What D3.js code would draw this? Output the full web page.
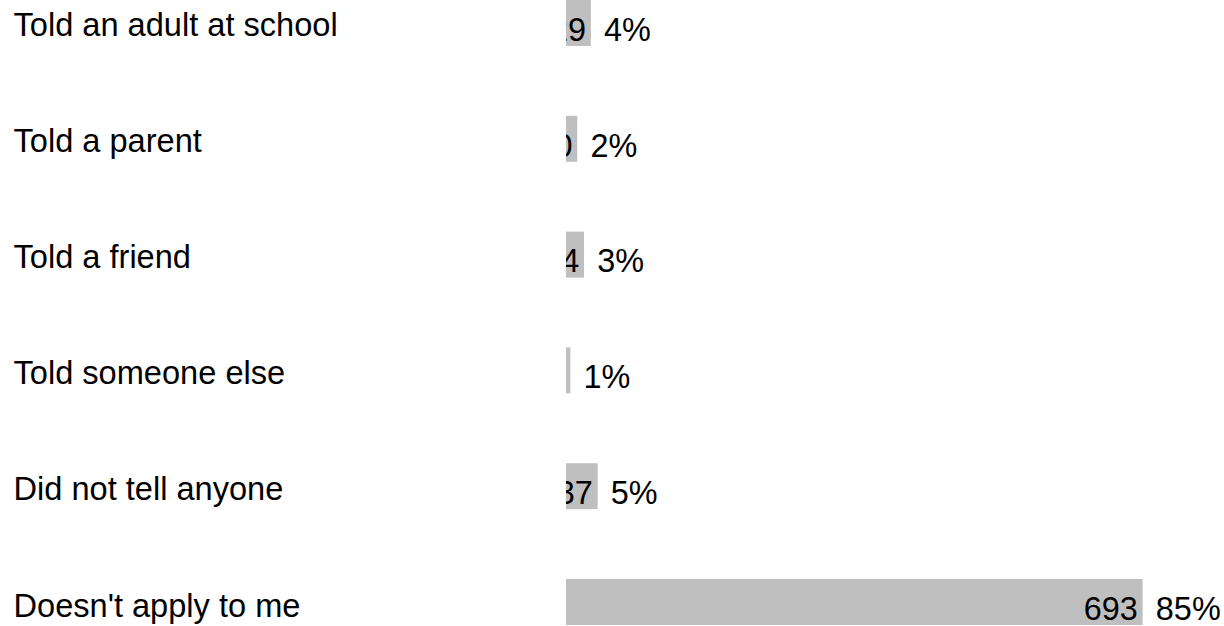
<!DOCTYPE html>
<html>
<head>
<meta charset="utf-8">
<script src="https://cdn.jsdelivr.net/npm/d3@7"></script>
<style>
  html, body { margin: 0; padding: 0; background: #fff; }
  svg text { font-family: "Liberation Sans", Arial, sans-serif; fill: #000; }
</style>
</head>
<body>
<div id="main"></div>
<script>
// answers, counts and the rounded share of each
const categories = ['Told an adult at school', 'Told a parent', 'Told a friend',
                    'Told someone else', 'Did not tell anyone', "Doesn't apply to me"];
const counts = [29, 20, 24, 8, 37, 693];
const percents = [4, 2, 3, 1, 5, 85];

const rows = categories.map((c, i) => ({ cat: c, n: counts[i], pct: percents[i] }));

const w = 1224;
const h = 626;
const labelSize = 32.6;
const numSize = 32.4;

const svg = d3.select('#main')
    .append('svg')
    .attr('width', w)
    .attr('height', h);

// bars scale on the percentage
const xScale = d3.scaleLinear()
    .domain([0, 85])
    .range([564.8, 564.8 + 579.06]);

const yScale = d3.scaleBand()
    .domain(categories)
    .range([-1.2, 626.2])
    .paddingInner(0.582)
    .paddingOuter(0);

// category labels sit on their own rows
const labelScale = d3.scalePoint()
    .domain(categories)
    .range([36, 616.5]);

svg.append('g')
    .selectAll('text')
    .data(rows)
    .enter()
    .append('text')
    .attr('x', 13.5)
    .attr('y', d => labelScale(d.cat))
    .style('font-size', labelSize + 'px')
    .text(d => d.cat);

const defs = svg.append('defs');

defs.selectAll('clipPath')
    .data(rows)
    .enter()
    .append('clipPath')
    .attr('id', (d, i) => 'clip' + i)
    .append('rect')
    .attr('x', xScale(0) + 1.2)
    .attr('y', d => yScale(d.cat) + 1.2)
    .attr('width', d => Math.max(0, xScale(d.pct) - xScale(0) - 2.4))
    .attr('height', yScale.bandwidth() - 2.4);

const bars = svg.append('g');

bars.selectAll('rect')
    .data(rows)
    .enter()
    .append('rect')
    .attr('x', xScale(0))
    .attr('y', d => yScale(d.cat))
    .attr('width', d => xScale(d.pct) - xScale(0))
    .attr('height', yScale.bandwidth())
    .attr('fill', '#bfbfbf')
    .attr('stroke', '#fff')
    .attr('stroke-width', 2.4);

// counts inside the bar, cut off where the bar ends
bars.selectAll('text.count')
    .data(rows)
    .enter()
    .append('text')
    .attr('class', 'count')
    .attr('clip-path', (d, i) => 'url(#clip' + i + ')')
    .attr('x', d => xScale(d.pct) - 6)
    .attr('y', d => yScale(d.cat) + yScale.bandwidth() / 2 + 17.7)
    .attr('text-anchor', 'end')
    .style('font-size', numSize + 'px')
    .text(d => d.n);

// percentages after the bar
bars.selectAll('text.pct')
    .data(rows)
    .enter()
    .append('text')
    .attr('class', 'pct')
    .attr('x', d => xScale(d.pct) + 12)
    .attr('y', d => yScale(d.cat) + yScale.bandwidth() / 2 + 17.7)
    .style('font-size', numSize + 'px')
    .text(d => d.pct + '%');
</script>
</body>
</html>
